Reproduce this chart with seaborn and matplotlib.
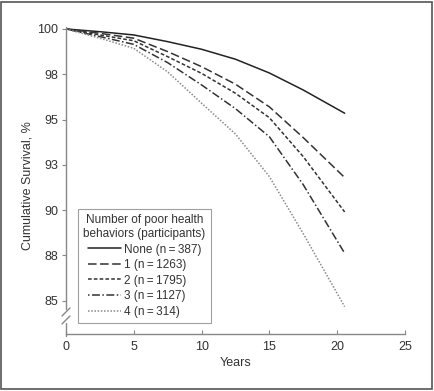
import numpy as np
import pandas as pd
import matplotlib
matplotlib.use('Agg')
import matplotlib.pyplot as plt
from matplotlib.patches import Rectangle
import seaborn as sns

# values
years = [0, 2.5, 5, 7.5, 10, 12.5, 15, 17.5, 20.55]
none_surv = [100, 99.85, 99.67, 99.30, 98.88, 98.33, 97.57, 96.63, 95.35]
one_surv = [100, 99.76, 99.49, 98.75, 97.92, 96.95, 95.70, 94.00, 91.80]
two_surv = [100, 99.67, 99.35, 98.47, 97.55, 96.45, 95.10, 92.95, 89.90]
three_surv = [100, 99.58, 99.15, 98.14, 96.91, 95.60, 94.05, 91.40, 87.62]
four_surv = [100, 99.49, 98.93, 97.63, 95.90, 94.20, 91.85, 88.70, 84.67]

groups = ['None (n\u2009=\u2009387)', '1 (n\u2009=\u20091263)', '2 (n\u2009=\u20091795)',
          '3 (n\u2009=\u20091127)', '4 (n\u2009=\u2009314)']
y_ticks = [100, 97.5, 95, 92.5, 90, 87.5, 85]
y_tick_labels = ['100', '98', '95', '93', '90', '88', '85']
x_ticks = [0, 5, 10, 15, 20, 25]

series = [none_surv, one_surv, two_surv, three_surv, four_surv]
df = pd.concat([pd.DataFrame({'Years': years, 'Survival': s, 'group': g})
                for g, s in zip(groups, series)], ignore_index=True)

sns.set_style('ticks')
plt.rcParams['font.family'] = ['Liberation Sans Narrow', 'Liberation Sans', 'DejaVu Sans']

fig = plt.figure(figsize=(4.35, 3.91), dpi=100)
ax = fig.add_axes([0.1517, 0.145, 0.7793, 0.786])

palette = dict(zip(groups, ['#222222', '#333333', '#333333', '#333333', '#8a8a8a']))
dashes = dict(zip(groups, ['', (5.6, 2.3), (2.4, 1.4), (1, 1.6, 5.2, 1.6), (1, 1.1)]))
sns.lineplot(data=df, x='Years', y='Survival', hue='group', style='group',
             palette=palette, dashes=dashes, linewidth=1.1, ax=ax, legend=False)

ax.set_xlim(0, 25)
ax.set_ylim(83.145, 100.11)
ax.set_xticks(x_ticks)
ax.set_yticks(y_ticks)
ax.set_yticklabels(y_tick_labels)
ax.tick_params(axis='x', direction='in', length=3, color='#888888', labelsize=9,
               labelcolor='#333333', pad=5)
ax.tick_params(axis='y', direction='out', length=3, color='#888888', labelsize=9,
               labelcolor='#333333', pad=2.5)
ax.set_xlabel('Years', fontsize=9, color='#333333')
ax.set_ylabel('Cumulative Survival, %', fontsize=9, color='#333333')
ax.xaxis.set_label_coords(0.5, -0.074)
ax.yaxis.set_label_coords(-0.097, 0.483)

for s in ['top', 'right', 'left']:
    ax.spines[s].set_visible(False)
ax.spines['bottom'].set_color('#888888')
ax.spines['bottom'].set_linewidth(1)

# left axis with a break
gc = '#888888'
ax.plot([0, 0], [0.0823, 1.0], transform=ax.transAxes, color=gc, lw=1, clip_on=False)
ax.plot([0, 0], [-0.007, 0.0368], transform=ax.transAxes, color=gc, lw=1, clip_on=False)
for yc in [0.0726, 0.0466]:
    ax.plot([-0.0118, 0.0118], [yc - 0.013, yc + 0.013], transform=ax.transAxes,
            color=gc, lw=1, clip_on=False)

handles = ax.get_lines()[:5]
leg = ax.legend(handles, groups, title='Number of poor health\nbehaviors (participants)',
                loc='lower left', bbox_to_anchor=(0.0354, 0.0368), borderaxespad=0,
                fontsize=8.5, title_fontsize=8.5, handlelength=2.8, handletextpad=0.25,
                labelspacing=0.3, frameon=True, fancybox=False, borderpad=0.45)
leg.get_frame().set_edgecolor('#888888')
leg.get_frame().set_linewidth(0.8)
for t in leg.get_texts():
    t.set_color('#333333')
leg.get_title().set_color('#333333')
leg.get_title().set_multialignment('center')

fig.patches.append(Rectangle((0.002, 0.004), 0.991, 0.992, transform=fig.transFigure,
                             fill=False, edgecolor='#555555', linewidth=1.2))

fig.savefig('out.png', dpi=100)
